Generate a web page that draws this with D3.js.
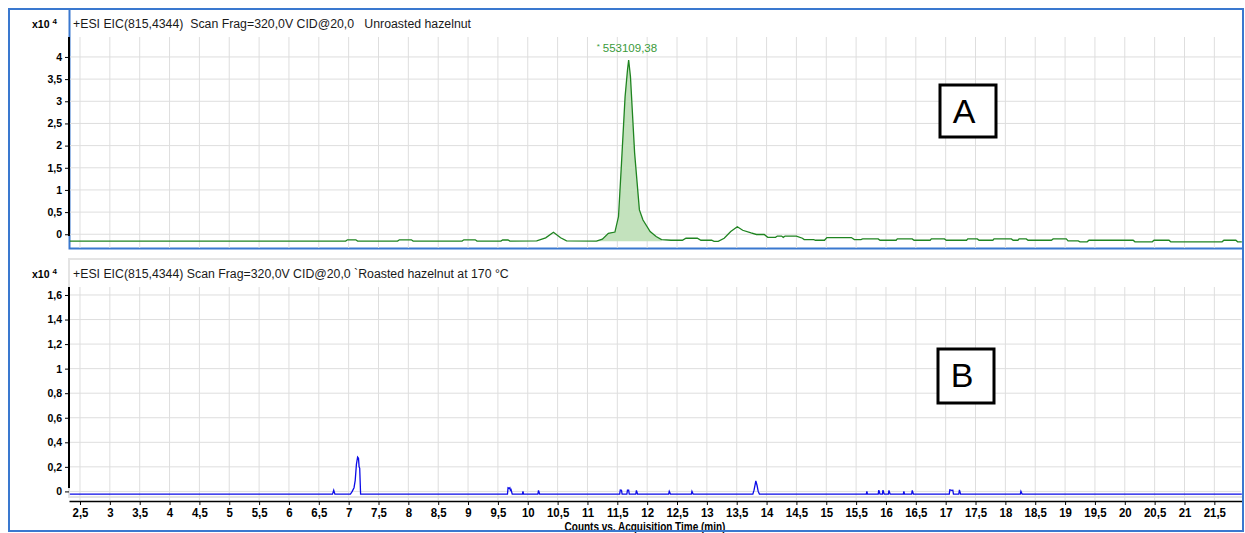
<!DOCTYPE html>
<meta charset="utf-8">
<title>EIC 815,4344 hazelnut</title>
<style>
body {
  margin: 0;
  background: #fff;
}
text {
  font-family: "Liberation Sans", Arial, sans-serif;
}
.head {
  font-size: 12.3px;
  fill: #1a1a1a;
  white-space: pre;
}
.grid line {
  stroke: #dedede;
  stroke-width: 1px;
}
</style>
<body>
<script src="https://cdn.jsdelivr.net/npm/d3@7"></script>
<script>
// panel A : unroasted hazelnut (counts x10^4)
var timeA = [2.33, 6.95, 6.98, 7.12, 7.15, 7.82, 7.85, 8.05, 8.08, 8.90, 8.93, 9.12, 9.15, 9.55, 9.58, 9.67, 9.70,
  10.15, 10.30, 10.43, 10.55, 10.65, 11.15, 11.25, 11.35, 11.46, 11.52, 11.57, 11.63, 11.67, 11.69, 11.72, 11.79,
  11.87, 11.93, 12.05, 12.15, 12.24, 12.40, 12.59, 12.65, 12.84, 12.90, 13.08, 13.12, 13.19, 13.29, 13.40, 13.51,
  13.60, 13.74, 13.83, 13.96, 14.02, 14.15, 14.18, 14.25, 14.28, 14.31, 14.50, 14.60, 14.63, 14.79, 14.82, 14.97,
  15.01, 15.42, 15.47, 15.58, 15.61, 15.87, 15.90, 16.17, 16.19, 16.44, 16.47, 16.74, 16.76, 16.98, 17.01, 17.35,
  17.37, 17.53, 17.56, 17.79, 17.81, 18.10, 18.13, 18.21, 18.23, 18.35, 18.38, 18.77, 18.80, 19.02, 19.05, 19.22,
  19.25, 19.37, 19.40, 20.14, 20.17, 20.46, 20.49, 20.74, 20.77, 21.63, 21.66, 21.86, 21.89, 21.96];
var countA = [-0.155, -0.155, -0.125, -0.125, -0.155, -0.155, -0.125, -0.125, -0.155, -0.155, -0.125, -0.125, -0.155, -0.155, -0.13, -0.13, -0.155,
  -0.15, -0.08, 0.045, -0.08, -0.15, -0.155, -0.11, 0.02, 0.05, 0.40, 1.60, 3.10, 3.70, 3.93, 3.56, 1.83,
  0.55, 0.32, 0.06, -0.05, -0.12, -0.135, -0.135, -0.09, -0.09, -0.135, -0.135, -0.16, -0.16, -0.09, 0.06, 0.17,
  0.09, 0.03, -0.005, -0.005, -0.07, -0.07, -0.04, -0.04, -0.07, -0.04, -0.04, -0.09, -0.12, -0.12, -0.135, -0.135,
  -0.075, -0.075, -0.12, -0.12, -0.105, -0.105, -0.135, -0.135, -0.105, -0.105, -0.135, -0.135, -0.105, -0.105, -0.135, -0.135,
  -0.105, -0.105, -0.135, -0.135, -0.105, -0.105, -0.135, -0.135, -0.105, -0.105, -0.135, -0.135, -0.105, -0.105, -0.15, -0.15,
  -0.17, -0.17, -0.135, -0.135, -0.17, -0.17, -0.135, -0.135, -0.17, -0.17, -0.135, -0.135, -0.17, -0.17];
var peakA = {time: 11.69, count: 3.93, label: "553109,38"};
var fillA = [11.15, 12.24], fillBaseA = -0.155;

// panel B : roasted hazelnut at 170 °C (counts x10^4)
var timeB = [2.33, 6.73, 6.75, 6.77, 7.03, 7.06, 7.09, 7.11, 7.13, 7.15, 7.165, 7.175, 7.185, 7.195, 7.20,
  9.66, 9.67, 9.69, 9.70, 9.71, 9.72, 9.74, 9.91, 9.92, 9.93, 10.17, 10.18, 10.20, 11.54, 11.55, 11.57, 11.58,
  11.66, 11.67, 11.69, 11.70, 11.81, 11.82, 11.84, 12.36, 12.37, 12.39, 12.74, 12.75, 12.77, 13.77, 13.79, 13.81,
  13.82, 13.84, 13.86, 13.88, 15.67, 15.68, 15.69, 15.87, 15.88, 15.90, 15.94, 15.95, 15.97, 16.04, 16.05, 16.07,
  16.29, 16.30, 16.31, 16.43, 16.44, 16.46, 17.06, 17.07, 17.10, 17.12, 17.13, 17.22, 17.23, 17.25, 18.25, 18.26,
  18.28, 21.96];
var countB = [-0.022, -0.022, 0.01, -0.022, -0.022, 0.0, 0.03, 0.09, 0.22, 0.28, 0.27, 0.2, 0.19, 0.05, -0.022,
  -0.022, 0.03, 0.025, 0.03, 0.01, 0.015, -0.022, -0.022, 0.0, -0.022, -0.022, 0.008, -0.022, -0.022, 0.012, 0.01, -0.022,
  -0.022, 0.01, 0.01, -0.022, -0.022, 0.008, -0.022, -0.022, 0.0, -0.022, -0.022, 0.0, -0.022, -0.022, 0.01, 0.06,
  0.085, 0.05, 0.0, -0.022, -0.022, 0.0, -0.022, -0.022, 0.01, -0.022, -0.022, 0.01, -0.022, -0.022, 0.008, -0.022,
  -0.022, 0.0, -0.022, -0.022, 0.008, -0.022, -0.022, 0.012, 0.008, 0.01, -0.022, -0.022, 0.012, -0.022, -0.022, 0.0,
  -0.022, -0.022];

var xTicks = [2.5, 3, 3.5, 4, 4.5, 5, 5.5, 6, 6.5, 7, 7.5, 8, 8.5, 9, 9.5, 10, 10.5, 11, 11.5, 12, 12.5, 13, 13.5,
  14, 14.5, 15, 15.5, 16, 16.5, 17, 17.5, 18, 18.5, 19, 19.5, 20, 20.5, 21, 21.5];
var yTicksA = [0, 0.5, 1, 1.5, 2, 2.5, 3, 3.5, 4];
var yTicksB = [0, 0.2, 0.4, 0.6, 0.8, 1, 1.2, 1.4, 1.6];
var headA = "+ESI EIC(815,4344)  Scan Frag=320,0V CID@20,0   Unroasted hazelnut";
var headB = "+ESI EIC(815,4344) Scan Frag=320,0V CID@20,0 `Roasted hazelnut at 170 °C";
var xTitle = "Counts vs. Acquisition Time (min)";

var w = 1245,
    h = 533,
    blue = "#3a78cf";

var fmt = d3.formatLocale({decimal: ",", thousands: ".", grouping: [3], currency: ["", ""]}).format("~g");

var x = d3.scaleLinear().domain([2.316, 21.98]).range([69, 1243]);
var yA = d3.scaleLinear().domain([-0.31, 4.45]).range([248, 37]);
var yB = d3.scaleLinear().domain([-0.07, 1.665]).range([500, 287]);

var svg = d3.select("body").append("svg")
    .attr("width", w)
    .attr("height", h);

// panel B light frame, panel A selected (blue) frame
svg.append("rect")
    .attr("x", 69).attr("y", 259).attr("width", 1174).attr("height", 238)
    .attr("fill", "none").attr("stroke", "#e4e4e4").attr("stroke-width", 2);
svg.append("rect")
    .attr("x", 69.5).attr("y", 9).attr("width", 1173.5).attr("height", 239.5)
    .attr("fill", "none").attr("stroke", blue).attr("stroke-width", 2);

function panel(y, yTicks, head, headY, top, bottom) {
  var g = svg.append("g").attr("class", "grid");
  g.selectAll(".v")
      .data(xTicks)
    .enter().append("line")
      .attr("x1", x).attr("x2", x)
      .attr("y1", top).attr("y2", bottom);
  g.selectAll(".h")
      .data(yTicks)
    .enter().append("line")
      .attr("x1", 70).attr("x2", 1241)
      .attr("y1", y).attr("y2", y);

  var ax = svg.append("g")
      .attr("transform", "translate(69,0)")
      .call(d3.axisLeft(y).tickValues(yTicks).tickSize(4).tickSizeOuter(0).tickFormat(fmt));
  ax.attr("font-family", "DejaVu Sans, sans-serif").attr("font-size", 10.5).attr("font-weight", "bold");
  ax.select(".domain").remove();
  ax.append("line")
      .attr("x1", 0).attr("x2", 0)
      .attr("y1", top).attr("y2", bottom - 12)
      .attr("stroke", "#000").attr("stroke-width", 2);

  svg.append("text")
      .attr("class", "head")
      .attr("x", 73).attr("y", headY)
      .text(head);

  var m = svg.append("text")
      .attr("x", 32).attr("y", headY)
      .attr("font-family", "DejaVu Sans, sans-serif")
      .attr("font-size", 10.5).attr("font-weight", "bold");
  m.append("tspan").text("x10");
  m.append("tspan").attr("dx", 3).attr("dy", -4).attr("font-size", 8).text("4");
}

panel(yA, yTicksA, headA, 28, 37, 248);
panel(yB, yTicksB, headB, 278, 287, 500);

// panel A trace
var ptsA = timeA.map(function(t, i) { return [t, countA[i]]; });
svg.append("path")
    .datum(ptsA.filter(function(d) { return d[0] >= fillA[0] && d[0] <= fillA[1]; }))
    .attr("fill", "#c3e2bd")
    .attr("d", d3.area()
        .x(function(d) { return x(d[0]); })
        .y0(yA(fillBaseA))
        .y1(function(d) { return yA(d[1]); }));
svg.append("path")
    .datum(ptsA)
    .attr("fill", "none")
    .attr("stroke", "#1f8420")
    .attr("stroke-width", 1.3)
    .attr("d", d3.line()
        .x(function(d) { return x(d[0]); })
        .y(function(d) { return yA(d[1]); }));

var pk = svg.append("text")
    .attr("x", x(peakA.time) - 32)
    .attr("y", yA(peakA.count) - 8)
    .attr("fill", "#3a9a3a")
    .attr("font-size", 11.5);
pk.append("tspan").attr("font-size", 8).attr("dy", -3).text("*");
pk.append("tspan").attr("dx", 3).attr("dy", 3).text(peakA.label);

// panel B trace
var ptsB = timeB.map(function(t, i) { return [t, countB[i]]; });
svg.append("path")
    .datum(ptsB)
    .attr("fill", "none")
    .attr("stroke", "#0b0be8")
    .attr("stroke-width", 1.3)
    .attr("d", d3.line()
        .x(function(d) { return x(d[0]); })
        .y(function(d) { return yB(d[1]); }));

// x axis (shared, under panel B)
var xa = svg.append("g")
    .attr("transform", "translate(0,501)")
    .call(d3.axisBottom(x).tickValues(xTicks).tickSize(4).tickSizeOuter(0).tickFormat(fmt));
xa.attr("font-family", "Liberation Sans, sans-serif")
    .attr("font-size", 13).attr("font-weight", "bold");
xa.selectAll(".tick text")
    .attr("transform", "scale(0.88,1)");
xa.select(".domain").attr("stroke-width", 1.5);

svg.append("text")
    .attr("transform", "translate(645,531) scale(0.8,1)")
    .attr("text-anchor", "middle")
    .attr("font-size", 12.5).attr("font-weight", "bold")
    .text(xTitle);

// boxed panel labels
[["A", 940, 85, 56, 52], ["B", 938, 349, 56, 54]].forEach(function(b) {
  svg.append("rect")
      .attr("x", b[1]).attr("y", b[2]).attr("width", b[3]).attr("height", b[4])
      .attr("fill", "#fff").attr("stroke", "#000").attr("stroke-width", 3);
  svg.append("text")
      .attr("x", b[1] + 24).attr("y", b[2] + 38)
      .attr("text-anchor", "middle")
      .attr("font-family", "Lato, Liberation Sans, sans-serif")
      .attr("font-size", 34)
      .text(b[0]);
});

// outer frame
svg.append("rect")
    .attr("x", 9).attr("y", 9).attr("width", 1234).attr("height", 522)
    .attr("fill", "none").attr("stroke", blue).attr("stroke-width", 2);
</script>
